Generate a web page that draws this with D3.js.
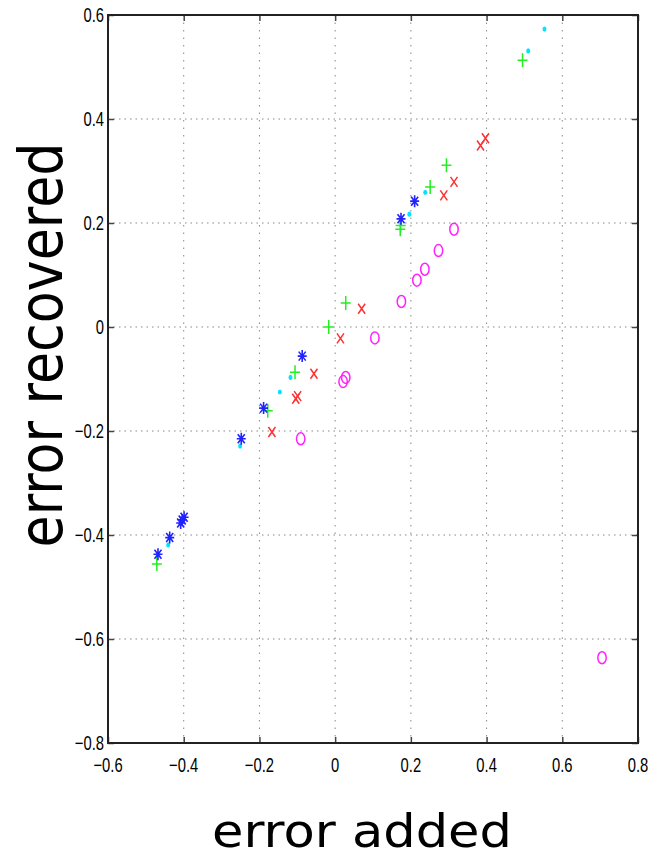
<!DOCTYPE html>
<html>
<head>
<meta charset="utf-8">
<script src="https://cdn.jsdelivr.net/npm/d3@7"></script>
<style>
  body { margin: 0; background: #fff; }
  svg { display: block; }
</style>
</head>
<body>
<div id="chart"></div>
<script>
// tick values
var xTicks = [-0.6, -0.4, -0.2, 0, 0.2, 0.4, 0.6, 0.8];
var yTicks = [-0.8, -0.6, -0.4, -0.2, 0, 0.2, 0.4, 0.6];

// series: blue asterisks
var starX = [0.210, 0.174, -0.087, -0.189, -0.248, -0.399, -0.404, -0.408, -0.437, -0.468];
var starY = [0.242, 0.208, -0.056, -0.156, -0.215, -0.366, -0.371, -0.377, -0.405, -0.437];
// cyan dots
var dotX = [0.553, 0.510, 0.238, 0.196, -0.118, -0.146, -0.251, -0.441];
var dotY = [0.573, 0.531, 0.259, 0.217, -0.097, -0.125, -0.229, -0.419];
// green plus
var plusX = [0.495, 0.294, 0.251, 0.172, 0.173, 0.028, -0.017, -0.106, -0.178, -0.471];
var plusY = [0.513, 0.311, 0.269, 0.188, 0.195, 0.046, 0.000, -0.087, -0.161, -0.456];
// red crosses
var crossX = [0.397, 0.384, 0.314, 0.287, 0.070, 0.014, -0.056, -0.099, -0.104, -0.167];
var crossY = [0.363, 0.349, 0.279, 0.253, 0.035, -0.022, -0.090, -0.133, -0.138, -0.202];
// magenta circles
var ringX = [0.314, 0.273, 0.237, 0.216, 0.175, 0.105, 0.028, 0.021, -0.091, 0.705];
var ringY = [0.188, 0.147, 0.111, 0.090, 0.049, -0.021, -0.097, -0.105, -0.215, -0.636];

var width = 655, height = 859;
var pLeft = 108, pRight = 638, pTop = 15, pBottom = 743;

var x = d3.scaleLinear().domain([-0.6, 0.8]).range([pLeft, pRight]);
var y = d3.scaleLinear().domain([-0.8, 0.6]).range([pBottom, pTop]);

var svg = d3.select("#chart").append("svg")
  .attr("width", width)
  .attr("height", height);

// grid lines
svg.append("g").selectAll("line").data(xTicks.slice(1, -1)).enter().append("line")
  .attr("x1", function(d) { return x(d); }).attr("x2", function(d) { return x(d); })
  .attr("y1", pTop).attr("y2", pBottom)
  .attr("stroke", "#888").attr("stroke-width", 1).attr("stroke-dasharray", "1.5,6");
svg.append("g").selectAll("line").data(yTicks.slice(1, -1)).enter().append("line")
  .attr("y1", function(d) { return y(d); }).attr("y2", function(d) { return y(d); })
  .attr("x1", pLeft).attr("x2", pRight)
  .attr("stroke", "#888").attr("stroke-width", 1).attr("stroke-dasharray", "1.5,4");

var fmt = function(d) { return d === 0 ? "0" : d3.format(".1f")(d).replace("-", "\u2013"); };

// axes (ticks point inward)
var gx = svg.append("g").attr("transform", "translate(0," + pBottom + ")")
  .call(d3.axisTop(x).tickValues(xTicks).tickSize(6).tickFormat(""));
var gxTop = svg.append("g").attr("transform", "translate(0," + pTop + ")")
  .call(d3.axisBottom(x).tickValues(xTicks).tickSize(6).tickFormat(""));
var gy = svg.append("g").attr("transform", "translate(" + pLeft + ",0)")
  .call(d3.axisRight(y).tickValues(yTicks).tickSize(6).tickFormat(""));
var gyRight = svg.append("g").attr("transform", "translate(" + pRight + ",0)")
  .call(d3.axisLeft(y).tickValues(yTicks).tickSize(6).tickFormat(""));
[gx, gxTop, gy, gyRight].forEach(function(g) {
  g.select(".domain").remove();
  g.selectAll(".tick line").attr("stroke", "#444").attr("stroke-width", 1.5);
});

// tick labels (condensed look)
var tickFont = "'Liberation Sans', Arial, sans-serif";
svg.append("g").selectAll("text").data(xTicks).enter().append("text")
  .attr("transform", function(d) { return "translate(" + x(d) + ",772) scale(0.74,1)"; })
  .attr("text-anchor", "middle")
  .attr("font-family", tickFont)
  .attr("font-size", 20)
  .text(fmt);
svg.append("g").selectAll("text").data(yTicks).enter().append("text")
  .attr("transform", function(d) { return "translate(" + (pLeft - 4) + "," + (y(d) + 7) + ") scale(0.74,1)"; })
  .attr("text-anchor", "end")
  .attr("font-family", tickFont)
  .attr("font-size", 20)
  .text(fmt);

// frame
svg.append("rect")
  .attr("x", pLeft).attr("y", pTop)
  .attr("width", pRight - pLeft).attr("height", pBottom - pTop)
  .attr("fill", "none").attr("stroke", "#222").attr("stroke-width", 2);

// axis titles
svg.append("text")
  .attr("x", 362).attr("y", 847)
  .attr("text-anchor", "middle")
  .attr("font-family", "'DejaVu Sans', Verdana, sans-serif")
  .attr("font-size", 47)
  .attr("textLength", 300).attr("lengthAdjust", "spacingAndGlyphs")
  .text("error added");
svg.append("text")
  .attr("transform", "translate(62,345) rotate(-90)")
  .attr("text-anchor", "middle")
  .attr("font-family", "'DejaVu Sans', Verdana, sans-serif")
  .attr("font-size", 60)
  .attr("textLength", 405).attr("lengthAdjust", "spacingAndGlyphs")
  .text("error recovered");

function pairs(xs, ys) { return xs.map(function(v, i) { return [v, ys[i]]; }); }

var marks = svg.append("g");

// cyan dots
marks.selectAll(".dot").data(pairs(dotX, dotY)).enter().append("ellipse")
  .attr("cx", function(d) { return x(d[0]); })
  .attr("cy", function(d) { return y(d[1]); })
  .attr("rx", 2).attr("ry", 2.6)
  .attr("fill", "#00e5ff");

// green plus
marks.selectAll(".plus").data(pairs(plusX, plusY)).enter().append("path")
  .attr("d", function(d) {
    var cx = x(d[0]), cy = y(d[1]);
    return "M" + (cx - 5) + "," + cy + "H" + (cx + 5) + "M" + cx + "," + (cy - 7) + "V" + (cy + 7);
  })
  .attr("stroke", "#22ee22").attr("stroke-width", 1.5).attr("fill", "none");

// red crosses
marks.selectAll(".cross").data(pairs(crossX, crossY)).enter().append("path")
  .attr("d", function(d) {
    var cx = x(d[0]), cy = y(d[1]);
    return "M" + (cx - 3.5) + "," + (cy - 5) + "L" + (cx + 3.5) + "," + (cy + 5) +
           "M" + (cx - 3.5) + "," + (cy + 5) + "L" + (cx + 3.5) + "," + (cy - 5);
  })
  .attr("stroke", "#ff3030").attr("stroke-width", 1.5).attr("fill", "none");

// blue asterisks
marks.selectAll(".star").data(pairs(starX, starY)).enter().append("path")
  .attr("d", function(d) {
    var cx = x(d[0]), cy = y(d[1]);
    return "M" + (cx - 4.5) + "," + cy + "H" + (cx + 4.5) +
           "M" + cx + "," + (cy - 6) + "V" + (cy + 6) +
           "M" + (cx - 3.5) + "," + (cy - 4.5) + "L" + (cx + 3.5) + "," + (cy + 4.5) +
           "M" + (cx - 3.5) + "," + (cy + 4.5) + "L" + (cx + 3.5) + "," + (cy - 4.5);
  })
  .attr("stroke", "#2222ff").attr("stroke-width", 1.6).attr("fill", "none");

// magenta circles
marks.selectAll(".ring").data(pairs(ringX, ringY)).enter().append("ellipse")
  .attr("cx", function(d) { return x(d[0]); })
  .attr("cy", function(d) { return y(d[1]); })
  .attr("rx", 4.2).attr("ry", 6)
  .attr("fill", "none").attr("stroke", "#ff22ff").attr("stroke-width", 1.5);
</script>
</body>
</html>
